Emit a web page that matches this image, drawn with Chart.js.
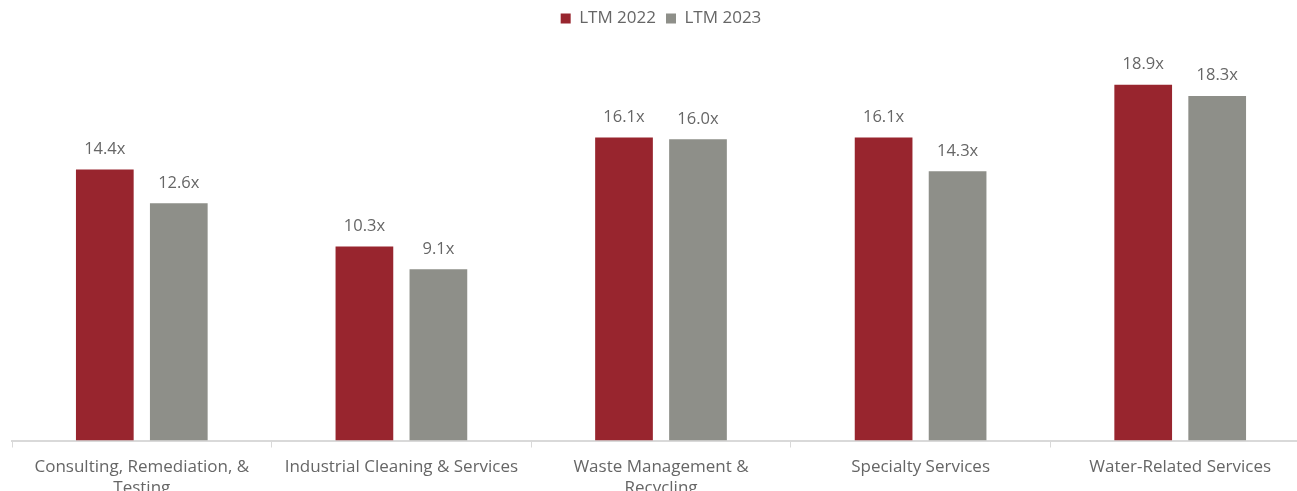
<!DOCTYPE html>
<html>
<head>
<meta charset="utf-8">
<script src="https://cdn.jsdelivr.net/npm/chart.js@4/dist/chart.umd.min.js"></script>
<style>
  html, body { margin: 0; padding: 0; background: #ffffff; overflow: hidden; }
  #wrap { width: 1310px; height: 508px; position: relative; }
</style>
</head>
<body>
<div id="wrap"><canvas id="barChart"></canvas></div>
<script>
const categories = [
  ["Consulting, Remediation, &", "Testing"],
  "Industrial Cleaning & Services",
  ["Waste Management &", "Recycling"],
  "Specialty Services",
  "Water-Related Services"
];
const ltm2022 = [14.4, 10.3, 16.1, 16.1, 18.9];
const ltm2023 = [12.6, 9.1, 16.0, 14.3, 18.3];
const seriesNames = ["LTM 2022", "LTM 2023"];

const textColor = "#666666";
const fontFamily = "'Open Sans', sans-serif";

// extra room under the legend
const legendSpace = {
  id: "legendSpace",
  beforeInit(chart) {
    const fit = chart.legend.fit;
    chart.legend.fit = function () {
      fit.bind(chart.legend)();
      this.height += 27;
    };
  }
};

const valueLabels = {
  id: "valueLabels",
  afterDatasetsDraw(chart) {
    const ctx = chart.ctx;
    ctx.save();
    ctx.fillStyle = textColor;
    ctx.font = "16.5px " + fontFamily;
    ctx.textAlign = "center";
    ctx.textBaseline = "bottom";
    chart.data.datasets.forEach(function (ds, i) {
      const meta = chart.getDatasetMeta(i);
      meta.data.forEach(function (bar, j) {
        ctx.fillText(ds.data[j].toFixed(1) + "x", bar.x, bar.y - 12);
      });
    });
    ctx.restore();
  }
};

new Chart(document.querySelector("#barChart").getContext("2d"), {
  type: "bar",
  data: {
    labels: categories,
    datasets: [
      {
        label: seriesNames[0],
        data: ltm2022,
        backgroundColor: "#98252e",
        barPercentage: 0.78,
        categoryPercentage: 0.57,
      },
      {
        label: seriesNames[1],
        data: ltm2023,
        backgroundColor: "#8e8f89",
        barPercentage: 0.78,
        categoryPercentage: 0.57,
      },
    ],
  },
  options: {
    responsive: true,
    maintainAspectRatio: false,
    animation: false,
    layout: {
      padding: { left: 12, right: 0, top: 0, bottom: 0 },
    },
    plugins: {
      legend: {
        position: "top",
        labels: {
          color: textColor,
          font: { size: 17, family: fontFamily },
          boxWidth: 10,
          boxHeight: 10,
          padding: 10,
        },
      },
      tooltip: { enabled: false },
    },
    scales: {
      x: {
        grid: {
          display: true,
          drawOnChartArea: false,
          color: "#d9d9d9",
          tickLength: 7,
          offset: true,
        },
        border: { display: true, color: "#d9d9d9", width: 2 },
        ticks: {
          color: textColor,
          font: { size: 17, family: fontFamily, lineHeight: 1.25 },
          maxRotation: 0,
          autoSkip: false,
          padding: 9,
        },
      },
      y: {
        display: false,
        min: 0,
        max: 20,
      },
    },
  },
  plugins: [legendSpace, valueLabels],
});
</script>
</body>
</html>
